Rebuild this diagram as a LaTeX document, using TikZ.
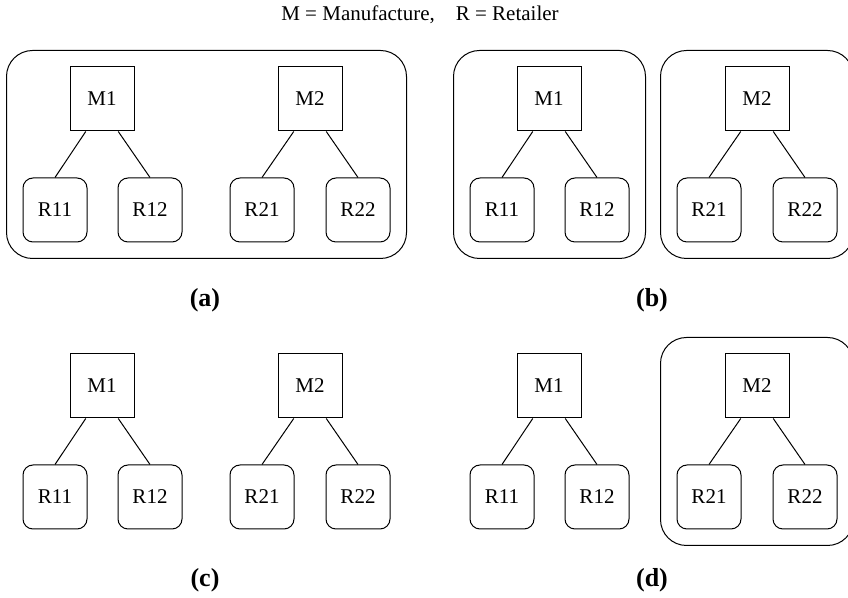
\documentclass[tikz,border=0pt]{standalone}
\usepackage{fontspec}
\setmainfont{Liberation Serif}
\usepackage{tikz}
\usetikzlibrary{calc}
\usetikzlibrary{fit}

\begin{document}
\begin{tikzpicture}[x=0.5pt, y=-0.5pt, line width=0.5pt,
		every node/.style={font=\fontsize{10.5}{12.6}\selectfont},
		manu/.style={draw, minimum size=32pt, inner sep=0pt},
		retail/.style={draw, rounded corners=5pt, minimum size=32pt, inner sep=0pt},
		group/.style={draw, rounded corners=13pt, inner sep=8pt},
		caption/.style={font=\fontsize{13}{15}\selectfont\bfseries}]
	\useasboundingbox (0,0) rectangle (848,598);
	\clip (0,0) rectangle (848,598);

	% Title
	\node (title) at (420,15) {M = Manufacture,\quad R = Retailer};

	% Trees
	\foreach \p/\dx/\dy in {a/0/0, b/447/0, c/0/287, d/447/287} {
		\node[manu] (\p M1) at (102+\dx,99+\dy) {M1};
		\node[retail] (\p R11) at (55+\dx,210+\dy) {R11};
		\node[retail] (\p R12) at (150+\dx,210+\dy) {R12};

		\node[manu] (\p M2) at (310+\dx,99+\dy) {M2};
		\node[retail] (\p R21) at (262+\dx,210+\dy) {R21};
		\node[retail] (\p R22) at (358+\dx,210+\dy) {R22};

		\draw ($(\p M1.south)!0.5!(\p M1.south west)$) -- (\p R11.north);
		\draw ($(\p M1.south)!0.5!(\p M1.south east)$) -- (\p R12.north);
		\draw ($(\p M2.south)!0.5!(\p M2.south west)$) -- (\p R21.north);
		\draw ($(\p M2.south)!0.5!(\p M2.south east)$) -- (\p R22.north);
	}

	% Groups
	\node[group, fit=(aM1)(aR11)(aR22)] (ga) {};
	\node[group, fit=(bM1)(bR11)(bR12)] (gb1) {};
	\node[group, fit=(bM2)(bR21)(bR22)] (gb2) {};
	\node[group, fit=(dM2)(dR21)(dR22)] (gd2) {};

	% Captions
	\node[caption] (capa) at (205,300) {(a)};
	\node[caption] (capb) at (652,300) {(b)};
	\node[caption] (capc) at (205,580) {(c)};
	\node[caption] (capd) at (652,580) {(d)};
\end{tikzpicture}
\end{document}
